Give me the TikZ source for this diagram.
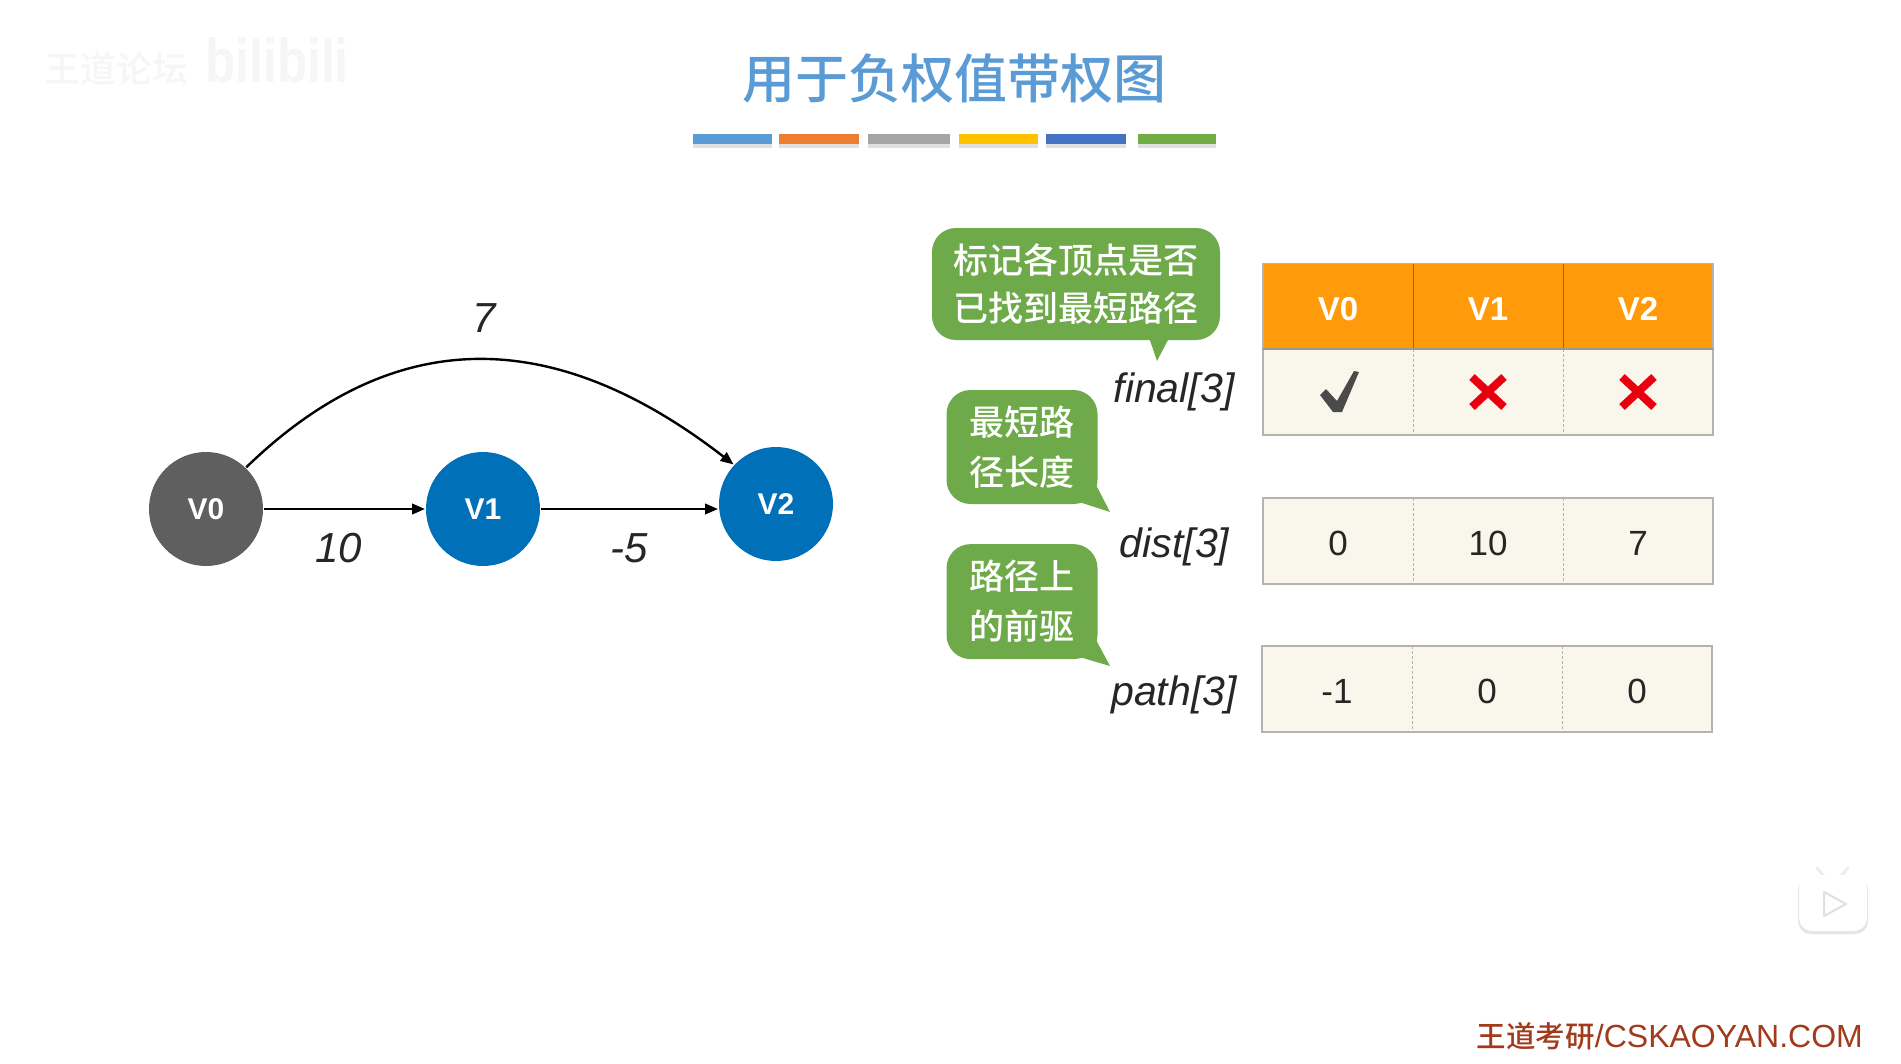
\documentclass[tikz,border=0pt]{standalone}
\usepackage{fontspec}
\setmainfont{Liberation Sans}
\newfontfamily\cjk{Noto Sans CJK SC Medium}
\usetikzlibrary{arrows.meta}
\definecolor{titleblue}{HTML}{5B9BD5}
\definecolor{barorange}{HTML}{ED7D31}
\definecolor{bargray}{HTML}{A5A5A5}
\definecolor{baryellow}{HTML}{FFC000}
\definecolor{barblue}{HTML}{4472C4}
\definecolor{bargreen}{HTML}{70AD47}
\definecolor{nodegray}{HTML}{5F5F5F}
\definecolor{nodeblue}{HTML}{0070B8}
\definecolor{headorange}{HTML}{FF9A0A}
\definecolor{cellbg}{HTML}{F9F6EC}
\definecolor{cellline}{HTML}{B4B4AC}
\definecolor{calloutgreen}{HTML}{6FAA4A}
\definecolor{crossred}{HTML}{E8000F}
\definecolor{checkgray}{HTML}{4A4A4A}
\definecolor{footred}{HTML}{A23A1C}
\definecolor{ghost}{HTML}{F6F6F6}
\tikzset{
  x=1pt,y=-1pt,
  vertex/.style={circle,minimum size=114pt,inner sep=0pt,outer sep=1pt,text=white,font=\fontsize{30}{30}\selectfont\bfseries},
  edgeline/.style={line width=2.4pt,draw=black,-{Triangle[length=13pt,width=10.5pt]}},
  weight/.style={inner sep=0pt,font=\fontsize{42}{42}\selectfont\itshape,text=black!85},
  barshadow/.style={fill=black!12},
  callout/.style={fill=calloutgreen,rounded corners=24pt,inner sep=0pt,text=white,align=center,font=\fontsize{35}{50}\selectfont\cjk},
  tailshape/.style={fill=calloutgreen},
  arrname/.style={inner sep=0pt,font=\fontsize{41}{41}\selectfont\itshape,text=black!85},
  headcell/.style={rectangle,fill=headorange,inner sep=0pt,text=white,minimum width=150pt,minimum height=85.5pt,text height=27.6pt,text depth=0pt,font=\fontsize{33}{33}\selectfont\bfseries},
  datacell/.style={rectangle,fill=cellbg,inner sep=0pt,text=black!85,minimum width=150pt,minimum height=85.5pt,text height=29pt,text depth=0pt,font=\fontsize{35}{35}\selectfont},
  frameline/.style={draw=cellline,line width=1.6pt},
  sepline/.style={draw=cellline,line width=1pt,densely dashed},
  headsep/.style={draw=headorange!65!black,line width=1pt},
  crossmark/.style={draw=crossred,line width=8pt},
  checkshape/.style={fill=checkgray},
  ghosttext/.style={inner sep=0pt,text=ghost}
}
\begin{document}
\begin{tikzpicture}
\path[use as bounding box,fill=white] (0,0) rectangle (1901,1063);

% watermark
\node[ghosttext,font=\fontsize{36}{36}\selectfont\cjk] (wm) at (116,69) {王道论坛};
\node[ghosttext,xscale=.8,font=\fontsize{62}{62}\selectfont\bfseries] (wmb) at (277,60) {bilibili};

% title
\node[inner sep=0pt,text=titleblue,font=\fontsize{53}{53}\selectfont\cjk] (title) at (954,79) {用于负权值带权图};

% colour bars
\foreach \a/\b/\c in {693/772/titleblue,779/859/barorange,868/950/bargray,959/1038/baryellow,1046/1126/barblue,1138/1216/bargreen}{
  \fill[barshadow] (\a,142) rectangle (\b,148);
  \fill[fill=\c] (\a,134) rectangle (\b,144);
}

% graph
\node[vertex,fill=nodegray] (v0) at (206,509) {V0};
\node[vertex,fill=nodeblue] (v1) at (483,509) {V1};
\node[vertex,fill=nodeblue] (v2) at (776,504) {V2};
\draw[edgeline] (v0) -- (v1);
\draw[edgeline] (v1.east) -- (v2.west |- v1.east);
\draw[edgeline] (v0.46) .. controls (396,322) and (556,327) .. (v2.137);
\node[weight] (w7) at (484,318) {7};
\node[weight] (w10) at (339,548) {10};
\node[weight] (w5) at (629.5,548) {-5};

% callouts
\fill[tailshape] (1148.5,336) -- (1157,361) -- (1170,336) -- cycle;
\node[callout,minimum width=288pt,minimum height=112pt,font=\fontsize{35}{48.5}\selectfont\cjk] (c1) at (1076,284) {标记各顶点是否\\已找到最短路径};
\fill[tailshape] (1094,481) -- (1110,512) -- (1076,501) -- cycle;
\node[callout,minimum width=151pt,minimum height=114pt] (c2) at (1022,447) {最短路\\径长度};
\fill[tailshape] (1094,636) -- (1110,666) -- (1076,656) -- cycle;
\node[callout,minimum width=151pt,minimum height=115pt] (c3) at (1022,601.6) {路径上\\的前驱};

% array names
\node[arrname] (nfinal) at (1174,391.5) {final[3]};
\node[arrname] (ndist) at (1174.5,546.5) {dist[3]};
\node[arrname] (npath) at (1174,694.5) {path[3]};

% final table
\node[headcell] (h0) at (1338,306.3) {V0};
\node[headcell] (h1) at (1488,306.3) {V1};
\node[headcell] (h2) at (1638,306.3) {V2};
\draw[headsep] (h0.north east) -- (h0.south east);
\draw[headsep] (h1.north east) -- (h1.south east);
\node[datacell] (f0) at (1338,391.8) {};
\node[datacell] (f1) at (1488,391.8) {};
\node[datacell] (f2) at (1638,391.8) {};
\draw[sepline] (f0.north east) -- (f0.south east);
\draw[sepline] (f1.north east) -- (f1.south east);
\draw[frameline] (h0.north west) -- (h0.south west) -- (f0.south west) -- (f2.south east) -- (h2.north east) -- (h0.north west);
\draw[frameline,draw=cellline!85!black] (h0.south west) -- (h2.south east);
\fill[checkshape] (1320,395) -- (1326,389) -- (1337,401) -- (1354,371) -- (1359,372) -- (1342,412) -- (1333,412) -- cycle;
\draw[crossmark] (1472,377) -- (1504,407);
\draw[crossmark] (1504,377) -- (1472,407);
\draw[crossmark] (1622,377) -- (1654,407);
\draw[crossmark] (1654,377) -- (1622,407);

% dist table
\node[datacell] (d0) at (1338,541) {0};
\node[datacell] (d1) at (1488,541) {10};
\node[datacell] (d2) at (1638,541) {7};
\draw[sepline] (d0.north east) -- (d0.south east);
\draw[sepline] (d1.north east) -- (d1.south east);
\draw[frameline] (d0.north west) rectangle (d2.south east);

% path table
\node[datacell] (p0) at (1337,689) {-1};
\node[datacell] (p1) at (1487,689) {0};
\node[datacell] (p2) at (1637,689) {0};
\draw[sepline] (p0.north east) -- (p0.south east);
\draw[sepline] (p1.north east) -- (p1.south east);
\draw[frameline] (p0.north west) rectangle (p2.south east);

% player badge
\draw[line width=3pt,draw=black!7,line cap=round] (1817,868) -- (1824,876);
\draw[line width=3pt,draw=black!7,line cap=round] (1848,868) -- (1841,876);
\fill[black!10,rounded corners=13pt] (1798,877) rectangle (1868,934);
\fill[white,rounded corners=13pt] (1799,875) rectangle (1867,931);
\filldraw[draw=black!12,fill=white,line width=2pt,line join=round] (1824,892) -- (1846,904) -- (1824,916) -- cycle;

% footer
\node[inner sep=0pt,anchor=east,text=footred,font=\fontsize{32}{33}\selectfont] (foot) at (1863,1036) {{\cjk\fontsize{29.5}{30}\selectfont 王道考研}/CSKAOYAN.COM};
\end{tikzpicture}
\end{document}
